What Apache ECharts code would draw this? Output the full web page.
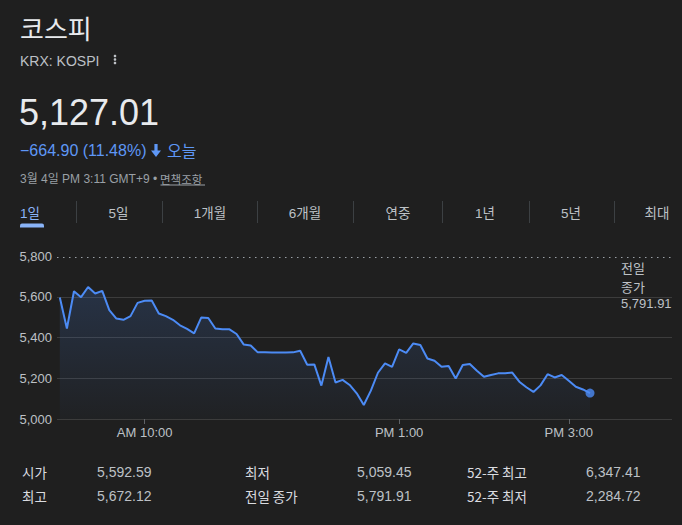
<!DOCTYPE html>
<html>
<head>
<meta charset="utf-8">
<script src="https://cdn.jsdelivr.net/npm/echarts@6/dist/echarts.min.js"></script>
<style>
html,body{margin:0;padding:0;background:#1f1f1f;}
#c{width:682px;height:525px;}
</style>
</head>
<body>
<div id="c"></div>
<script>
// ---- data ----
const times = ['09:00','09:05','09:10','09:15','09:20','09:25','09:30','09:35','09:40','09:45',
  '09:50','09:55','10:00','10:05','10:10','10:15','10:20','10:25','10:30','10:35',
  '10:40','10:45','10:50','10:55','11:00','11:05','11:10','11:15','11:20','11:25',
  '11:30','11:35','11:40','11:45','11:50','11:55','12:00','12:05','12:10','12:15',
  '12:20','12:25','12:30','12:35','12:40','12:45','12:50','12:55','13:00','13:05',
  '13:10','13:15','13:20','13:25','13:30','13:35','13:40','13:45','13:50','13:55',
  '14:00','14:05','14:10','14:15','14:20','14:25','14:30','14:35','14:40','14:45',
  '14:50','14:55','15:00','15:05','15:10','15:15'];
const values = [5596,5444,5627,5598,5648,5616,5629,5534,5493,5487,
  5505,5570,5580,5582,5518,5505,5487,5460,5442,5420,
  5498,5496,5444,5440,5440,5417,5366,5361,5327,5327,
  5326,5326,5326,5327,5335,5266,5268,5164,5304,5179,
  5192,5167,5126,5069,5139,5227,5273,5256,5342,5325,
  5371,5363,5297,5286,5256,5260,5199,5265,5270,5237,
  5207,5216,5224,5224,5228,5183,5156,5133,5165,5220,
  5204,5216,5188,5158,5145,5127.01];
const previousClose = 5791.91;
const xTickTimes = ['10:00','13:00','15:00'];
const xTickLabels = ['AM 10:00','PM 1:00','PM 3:00'];
const tabs = ['1일','5일','1개월','6개월','연중','1년','5년','최대'];
const statLabels = ['시가','최고','최저','전일 종가','52-주 최고','52-주 최저'];
const statValues = ['5,592.59','5,672.12','5,059.45','5,791.91','6,347.41','2,284.72'];

// ---- helpers ----
const toMin = s => { const p = s.split(':'); return (+p[0]) * 60 + (+p[1]); };
const LAT = '"Liberation Sans", Arial, "Noto Sans CJK KR", sans-serif';
const KR = '"Noto Sans CJK KR", "Liberation Sans", sans-serif';
const BLUE = '#4c8bf5';

function txt(x, y, text, size, fill, family, align, extra) {
  return Object.assign({
    type: 'text', silent: true,
    style: {
      x: x, y: y, text: text, fill: fill,
      fontSize: size, fontFamily: family || LAT,
      align: align || 'left', textAlign: align || 'left',
      verticalAlign: 'middle', textVerticalAlign: 'middle'
    }
  }, extra || {});
}

const g = [];
// header
g.push(txt(20, 27, '코스피', 26, '#e8eaed', KR));
g.push(txt(20, 60.5, 'KRX: KOSPI', 14, '#bdc1c6'));
[56, 59.5, 63].forEach(cy => g.push({type:'circle', silent:true, shape:{cx:115, cy:cy, r:1.3}, style:{fill:'#bdc1c6'}}));
g.push(txt(19, 112, '5,127.01', 36, '#e8eaed'));
g.push(txt(20, 150, '−664.90 (11.48%)', 16, '#5e97f6'));
g.push({type:'polygon', silent:true, shape:{points:[[154.4,144],[157.6,144],[157.6,150.5],[161,150.5],[156,157],[151,150.5],[154.4,150.5]]}, style:{fill:'#5e97f6'}});
g.push(txt(167, 150, '오늘', 16, '#5e97f6', KR));
g.push(txt(20, 179, '3월 4일 PM 3:11 GMT+9 •', 12, '#9aa0a6'));
g.push(txt(160, 179, '면책조항', 11.5, '#9aa0a6', KR));
g.push({type:'line', silent:true, shape:{x1:160.5, y1:185, x2:205, y2:185}, style:{stroke:'#9aa0a6', lineWidth:1}});

// tabs
const tabX = [20, 118.5, 210, 305, 398, 485, 571, 657];
tabs.forEach((t, i) => {
  g.push(txt(tabX[i], 213, t, 13.5, i === 0 ? '#8ab4f8' : '#bdc1c6', LAT, i === 0 ? 'left' : 'center'));
});
[76, 162, 257, 353, 442, 529, 614].forEach(x => g.push({type:'line', silent:true, shape:{x1:x+0.5, y1:201, x2:x+0.5, y2:223}, style:{stroke:'#3c4043', lineWidth:1}}));
g.push({type:'rect', silent:true, shape:{x:20, y:223.5, width:24, height:4, r:[2,2,0,0]}, style:{fill:'#8ab4f8'}});

// previous close label on the right
g.push(txt(621, 267, '전일', 13, '#bdc1c6', KR));
g.push(txt(621, 286, '종가', 13, '#bdc1c6', KR));
g.push(txt(621, 303, '5,791.91', 13, '#bdc1c6'));

// stats
const colLX = [22, 245, 467];
const colVX = [97, 357, 586];
const rowY = [472, 496];
statLabels.forEach((l, i) => {
  const col = Math.floor(i / 2), row = i % 2;
  g.push(txt(colLX[col], rowY[row], l, 13.5, '#dadce0', KR));
  g.push(txt(colVX[col], rowY[row], statValues[i], 14, '#bdc1c6'));
});

const lineData = times.map((t, i) => [toMin(t), values[i]]);
const last = lineData.length - 1;

const chart = echarts.init(document.getElementById('c'), null, {renderer: 'svg', width: 682, height: 525});
chart.setOption({
  backgroundColor: '#1f1f1f',
  animation: false,
  grid: {left: 57, right: 10, top: 256, bottom: 106, containLabel: false, outerBoundsMode: 'none'},
  xAxis: {
    type: 'value', min: 538, max: 973,
    axisLine: {show: false},
    splitLine: {show: false},
    axisTick: {show: true, length: 5, lineStyle: {color: '#5f6368'}, customValues: xTickTimes.map(toMin)},
    axisLabel: {
      color: '#bdc1c6', fontSize: 13, fontFamily: LAT, margin: 7,
      customValues: xTickTimes.map(toMin),
      formatter: v => { const k = xTickTimes.map(toMin).indexOf(v); return k >= 0 ? xTickLabels[k] : ''; }
    }
  },
  yAxis: {
    type: 'value', min: 5000, max: 5800, interval: 200,
    axisLine: {show: false}, axisTick: {show: false},
    axisLabel: {color: '#bdc1c6', fontSize: 13, fontFamily: LAT, margin: 5, formatter: v => v.toLocaleString('en-US')},
    splitLine: {show: true, showMaxLine: false, lineStyle: {color: ['#3c3c3c','#3c3c3c','#3c3c3c','#3c3c3c','rgba(0,0,0,0)'], width: 1}}
  },
  series: [{
    type: 'line',
    data: lineData,
    symbol: 'none', showSymbol: false,
    lineStyle: {color: BLUE, width: 2},
    areaStyle: {
      origin: 'start',
      color: new echarts.graphic.LinearGradient(0, 0, 0, 1, [
        {offset: 0, color: 'rgba(76,139,245,0.26)'},
        {offset: 1, color: 'rgba(76,139,245,0.03)'}
      ])
    },
    markLine: {
      silent: true, symbol: 'none', label: {show: false},
      lineStyle: {type: [1.5, 4.5], color: '#9aa0a6', width: 1.2},
      data: [{yAxis: previousClose}]
    }
  }, {
    type: 'scatter',
    data: [lineData[last]],
    symbolSize: 9,
    itemStyle: {color: BLUE},
    silent: true
  }],
  graphic: {elements: g}
});
</script>
</body>
</html>
